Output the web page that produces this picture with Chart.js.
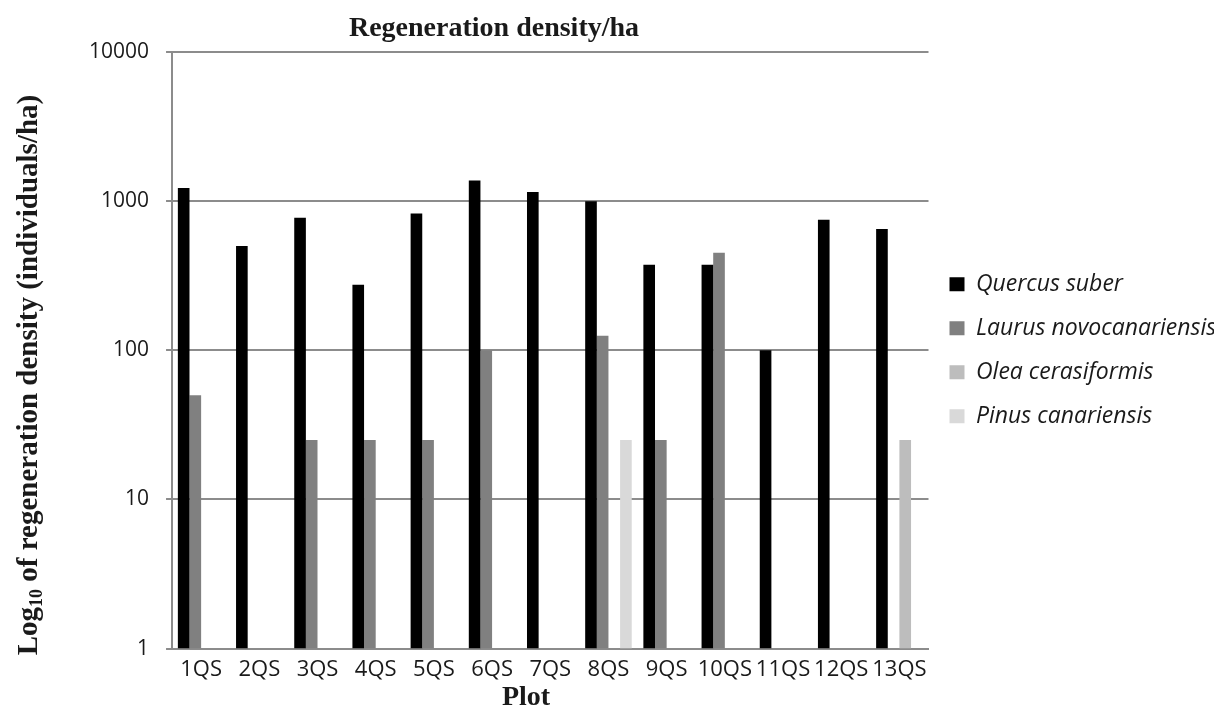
<!DOCTYPE html>
<html>
<head>
<meta charset="utf-8">
<title>Regeneration density/ha</title>
<script src="https://cdn.jsdelivr.net/npm/chart.js@4.4.0/dist/chart.umd.min.js"></script>
<style>
  html, body { margin: 0; padding: 0; background: #fff; }
  #wrap { width: 1228px; height: 724px; }
</style>
</head>
<body>
<div id="wrap"><canvas id="chart" width="1228" height="724"></canvas></div>
<script>
// Data
const plots = ["1QS", "2QS", "3QS", "4QS", "5QS", "6QS", "7QS", "8QS", "9QS", "10QS", "11QS", "12QS", "13QS"];
const quercusSuber = [1225, 500, 775, 275, 825, 1375, 1150, 1000, 375, 375, 100, 750, 650];
const laurusNovocanariensis = [50, null, 25, 25, 25, 100, null, 125, 25, 450, null, null, null];
const oleaCerasiformis = [null, null, null, null, null, null, null, null, null, null, null, null, 25];
const pinusCanariensis = [null, null, null, null, null, null, null, 25, null, null, null, null, null];
const yTicks = [1, 10, 100, 1000, 10000];

const GRID_COLOR = "#8c8c8c";
const TEXT_COLOR = "#1a1a1a";
const SANS = "'Open Sans', 'Liberation Sans', sans-serif";
const SERIF = "'Liberation Serif', 'DejaVu Serif', serif";

// Titles drawn by hand (subscript in the y title, offset positions)
const extraTitles = {
  id: "extraTitles",
  afterDraw(chart) {
    const ctx = chart.ctx;
    ctx.save();
    ctx.fillStyle = TEXT_COLOR;
    ctx.textBaseline = "middle";
    ctx.textAlign = "center";
    ctx.font = "bold 28px " + SERIF;
    ctx.fillText("Regeneration density/ha", 494, 29);
    ctx.fillText("Plot", 526, 698);

    // y axis title, rotated
    ctx.translate(27, 375);
    ctx.rotate(-Math.PI / 2);
    const big = "bold 29px " + SERIF;
    const small = "bold 18px " + SERIF;
    const part1 = "Log";
    const part2 = "10";
    const part3 = " of regeneration density (individuals/ha)";
    ctx.font = big;
    const w1 = ctx.measureText(part1).width;
    const w3 = ctx.measureText(part3).width;
    ctx.font = small;
    const w2 = ctx.measureText(part2).width;
    let x = -(w1 + w2 + w3) / 2;
    ctx.textAlign = "left";
    ctx.textBaseline = "alphabetic";
    ctx.font = big;
    ctx.fillText(part1, x, 10);
    x += w1;
    ctx.font = small;
    ctx.fillText(part2, x, 15);
    x += w2;
    ctx.font = big;
    ctx.fillText(part3, x, 10);
    ctx.restore();
  }
};

function makeDataset(label, data, color) {
  return {
    label: label,
    data: data,
    backgroundColor: color,
    borderWidth: 0,
    categoryPercentage: 0.8,
    barPercentage: 1.0
  };
}

function initChart() {
  const ctx = document.getElementById("chart").getContext("2d");

  new Chart(ctx, {
    type: "bar",
    data: {
      labels: plots,
      datasets: [
        makeDataset("Quercus suber", quercusSuber, "#000000"),
        makeDataset("Laurus novocanariensis", laurusNovocanariensis, "#808080"),
        makeDataset("Olea cerasiformis", oleaCerasiformis, "#bdbdbd"),
        makeDataset("Pinus canariensis", pinusCanariensis, "#d9d9d9")
      ]
    },
    options: {
      responsive: false,
      animation: false,
      devicePixelRatio: 1,
      layout: {
        padding: { top: 52, left: 72, right: 14, bottom: 41 }
      },
      plugins: {
        title: { display: false },
        tooltip: { enabled: false },
        legend: {
          position: "right",
          fullSize: false,
          labels: {
            boxWidth: 15,
            boxHeight: 14,
            padding: 21,
            color: TEXT_COLOR,
            font: { family: SANS, size: 23, style: "italic" }
          }
        }
      },
      scales: {
        x: {
          grid: { display: false },
          border: { display: true, color: GRID_COLOR, width: 2 },
          ticks: {
            color: TEXT_COLOR,
            padding: 0,
            maxRotation: 0,
            autoSkip: false,
            font: { family: SANS, size: 22 }
          }
        },
        y: {
          type: "logarithmic",
          min: 1,
          max: 10000,
          afterBuildTicks(scale) {
            scale.ticks = yTicks.map(v => ({ value: v }));
          },
          grid: {
            color: GRID_COLOR,
            lineWidth: 2,
            drawTicks: true,
            tickLength: 6
          },
          border: { display: true, color: GRID_COLOR, width: 2 },
          ticks: {
            color: TEXT_COLOR,
            padding: 17,
            font: { family: SANS, size: 21 },
            callback: value => String(value)
          }
        }
      }
    },
    plugins: [extraTitles]
  });
}

document.addEventListener("DOMContentLoaded", initChart);
</script>
</body>
</html>
